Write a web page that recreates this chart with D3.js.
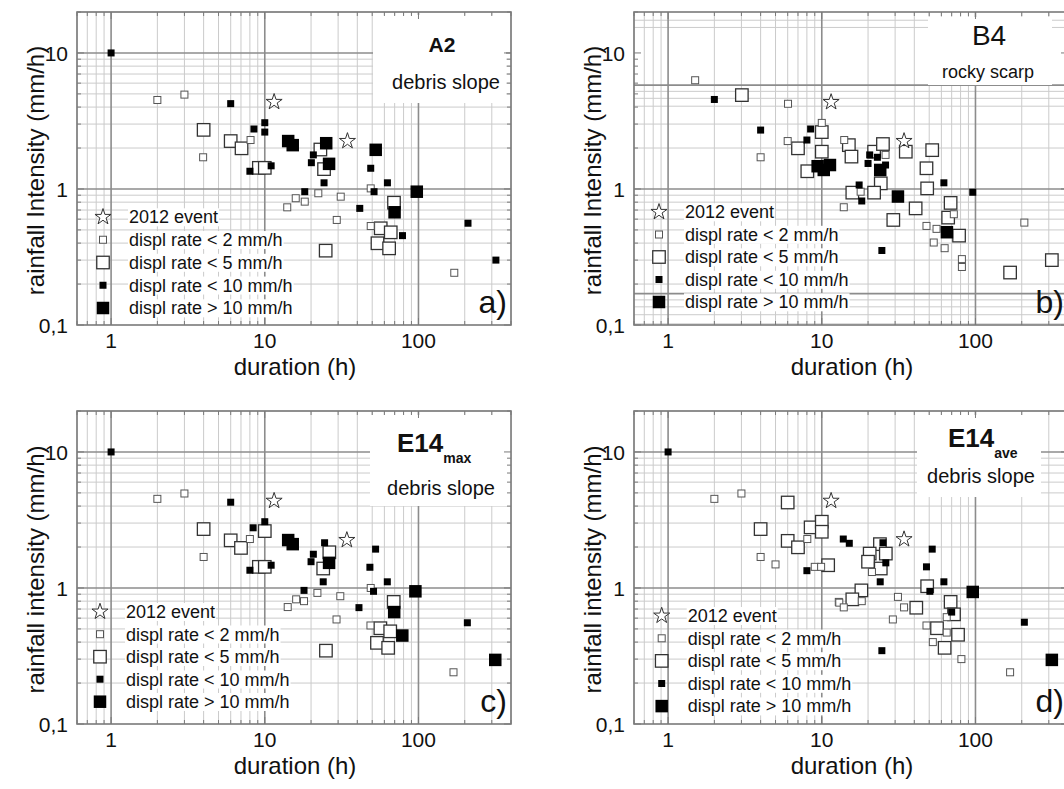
<!DOCTYPE html>
<html>
<head>
<meta charset="utf-8">
<script src="https://cdn.jsdelivr.net/npm/d3@7"></script>
<style>
  body { margin: 0; background: #fff; }
  svg { display: block; font-family: "Liberation Sans", Arial, sans-serif; }
</style>
</head>
<body>
<svg id="chart" width="1064" height="789"></svg>
<script>
// ---- data: [duration (h), rainfall intensity (mm/h)] ----
const a2Event = [[11.5, 4.36], [34.5, 2.25]];
const a2Lt2 = [[2, 4.51], [3, 4.94], [8.08, 2.29], [3.97, 1.71], [15.9, 0.855], [18.2, 0.807], [14, 0.733],
  [22.3, 0.93], [31.2, 0.878], [48.9, 1.01], [29.4, 0.592], [48.9, 0.534], [171, 0.242]];
const a2Lt5 = [[4, 2.72], [6, 2.25], [7.06, 1.99], [9.15, 1.43], [10, 1.43], [23, 1.95], [24.3, 1.40], [69.3, 0.793],
  [56.8, 0.514], [66, 0.48], [54.1, 0.399], [64.4, 0.366], [24.9, 0.352]];
const a2Lt10 = [[1, 10], [6, 4.24], [10, 3.07], [8.5, 2.76], [10, 2.62], [8, 1.35], [11, 1.48], [20.7, 1.78],
  [20.1, 1.56], [24.3, 1.11], [48.9, 1.42], [62.8, 1.11], [51.4, 0.955], [18.2, 0.955], [41.5, 0.72],
  [78.7, 0.454], [210, 0.56], [319, 0.3]];
const a2Gt10 = [[14.2, 2.25], [15.2, 2.1], [25.1, 2.17], [26.2, 1.53], [52.7, 1.94], [97.5, 0.955], [69.9, 0.674]];

const b4Event = [[11.5, 4.35], [34.3, 2.25]];
const b4Lt2 = [[1.5, 6.3], [6.03, 4.23], [10, 3.06], [6, 2.25], [4, 1.71], [14, 2.29], [26, 1.78], [17.9, 0.955],
  [13.9, 0.734], [72.3, 0.652], [48, 0.535], [55.8, 0.509], [53.5, 0.404], [63, 0.367], [81.6, 0.305],
  [81.6, 0.267], [208, 0.566]];
const b4Lt5 = [[3.02, 4.9], [10, 2.62], [7, 1.99], [10, 1.88], [8.05, 1.35], [15, 2.1], [15.6, 1.73], [21.9, 1.88],
  [25, 2.14], [24.2, 1.1], [35.2, 1.88], [52.3, 1.93], [48, 1.42], [48.5, 1.01], [15.8, 0.94], [21.9, 0.94],
  [40.8, 0.72], [68.9, 0.79], [66.4, 0.616], [29.2, 0.592], [78.2, 0.454], [168, 0.243], [314, 0.30]];
const b4Lt10 = [[2, 4.55], [4, 2.71], [8.46, 2.76], [8, 2.29], [9.2, 1.47], [20.5, 1.78], [23, 1.71], [20, 1.54],
  [26, 1.5], [17.5, 1.07], [62.3, 1.11], [96, 0.946], [18.2, 0.816], [24.6, 0.353]];
const b4Gt10 = [[9.4, 1.47], [10.3, 1.38], [11.3, 1.5], [24, 1.38], [31.3, 0.88], [65.2, 0.481]];

const e14maxEvent = [[11.5, 4.37], [34.2, 2.25]];
const e14maxLt2 = [[2, 4.52], [3, 4.95], [8, 2.29], [4, 1.69], [14.1, 0.724], [16, 0.825], [48.9, 1.0], [22, 0.92],
  [31, 0.87], [18, 0.8], [29.3, 0.587], [48.7, 0.53], [169, 0.24]];
const e14maxLt5 = [[4, 2.71], [10, 2.62], [6, 2.24], [7, 1.97], [9.15, 1.43], [10, 1.43], [26.3, 1.83], [24, 1.39],
  [69, 0.79], [56.5, 0.506], [65.5, 0.48], [53.7, 0.395], [63.5, 0.363], [25, 0.346]];
const e14maxLt10 = [[1, 10], [6, 4.27], [10, 3.07], [8.4, 2.77], [8, 1.35], [11, 1.47], [20.7, 1.77], [20, 1.56],
  [24.5, 2.15], [24, 1.11], [52.6, 1.93], [48.3, 1.42], [62.7, 1.11], [51, 0.945], [18, 0.96], [41, 0.717], [208, 0.555]];
const e14maxGt10 = [[14.2, 2.25], [15.2, 2.1], [26.2, 1.53], [95.5, 0.945], [69.5, 0.665], [78.5, 0.447], [316, 0.296]];

const e14aveEvent = [[11.5, 4.37], [34.3, 2.28]];
const e14aveLt2 = [[2, 4.52], [3, 4.95], [8.05, 2.29], [4, 1.69], [5, 1.49], [9, 1.43], [9.9, 1.43], [12.9, 0.79],
  [21.2, 1.31], [18.2, 0.8], [13, 0.78], [13.9, 0.72], [31.3, 0.86], [34.3, 0.72], [29, 0.587], [65, 0.61],
  [48, 0.53], [65, 0.47], [52.8, 0.40], [81, 0.30], [168, 0.24]];
const e14aveLt5 = [[6, 4.25], [4, 2.71], [6, 2.22], [7, 1.99], [8.46, 2.79], [10, 3.07], [10, 2.59], [11, 1.47],
  [23.9, 2.1], [26.1, 1.79], [20.5, 1.79], [20, 1.56], [24.2, 1.39], [48.5, 1.03], [18.1, 0.96], [15.8, 0.825],
  [41.2, 0.716], [68.9, 0.79], [72.5, 0.64], [56.2, 0.506], [77, 0.453], [63, 0.363]];
const e14aveLt10 = [[1, 10], [8, 1.34], [13.8, 2.29], [15.1, 2.13], [25, 2.15], [26.1, 1.53], [24, 1.11], [52.3, 1.93],
  [48, 1.43], [62.3, 1.11], [50.5, 0.945], [70, 0.665], [24.6, 0.346], [208, 0.56]];
const e14aveGt10 = [[96, 0.935], [314, 0.296]];

const legendLabels = ['2012 event', 'displ rate < 2 mm/h', 'displ rate < 5 mm/h', 'displ rate < 10 mm/h', 'displ rate > 10 mm/h'];
const xTicks = [1, 10, 100];
const xTickLabels = ['1', '10', '100'];
const yTicks = [0.1, 1, 10];
const yTickLabels = ['0,1', '1', '10'];
const xDomain = [0.6, 400];
const yDomain = [0.1, 20];

// marker styles for the five classes
const styles = [
  { type: 'star', size: 80 },
  { type: 'rect', s: 7, fill: '#fff', stroke: '#555', sw: 1 },
  { type: 'rect', s: 12.5, fill: '#fff', stroke: '#333', sw: 1.3 },
  { type: 'rect', s: 7, fill: '#000', stroke: 'none', sw: 0 },
  { type: 'rect', s: 12.5, fill: '#000', stroke: 'none', sw: 0 }
];

const panels = [
  { left: 77, top: 12, ylab: 'rainfall Intensity (mm/h)', tag: 'a)',
    series: [a2Event, a2Lt2, a2Lt5, a2Lt10, a2Gt10],
    legend: { x: 103, y: 217, dy: 22.75 },
    box: { x0: 373, x1: 506, y0: 15, y1: 103 },
    title: { text: 'A2', bold: true, size: 21, x: 442, y: 52 },
    sub: { text: 'debris slope', size: 20, x: 446, y: 89 } },
  { left: 634, top: 12, ylab: 'rainfall Intensity (mm/h)', tag: 'b)',
    series: [b4Event, b4Lt2, b4Lt5, b4Lt10, b4Gt10],
    legend: { x: 659, y: 212, dy: 22.5 },
    box: { x0: 928, x1: 1052, y0: 17, y1: 85 },
    title: { text: 'B4', bold: false, size: 28, x: 989, y: 45 },
    sub: { text: 'rocky scarp', size: 18, x: 988, y: 78 },
    hMajor: [5.8, 1, 0.17],
    hMinor: [17.4, 15.4, 5.22, 4.64, 4.06, 3, 2, 0.9, 0.8, 0.7, 0.6, 0.5, 0.4, 0.3, 0.2, 0.153, 0.136, 0.119, 0.102] },
  { left: 77, top: 411, ylab: 'rainfall intensity (mm/h)', tag: 'c)',
    series: [e14maxEvent, e14maxLt2, e14maxLt5, e14maxLt10, e14maxGt10],
    legend: { x: 100, y: 611.7, dy: 22.5 },
    box: { x0: 370, x1: 511, y0: 415, y1: 506 },
    title: { text: 'E14', subscript: 'max', bold: true, size: 26, x: 397, y: 452 },
    sub: { text: 'debris slope', size: 20, x: 441, y: 495 } },
  { left: 634, top: 411, ylab: 'rainfall intensity (mm/h)', tag: 'd)',
    series: [e14aveEvent, e14aveLt2, e14aveLt5, e14aveLt10, e14aveGt10],
    legend: { x: 661.7, y: 615.7, dy: 22.6 },
    box: { x0: 917, x1: 1041, y0: 415, y1: 497 },
    title: { text: 'E14', subscript: 'ave', bold: true, size: 26, x: 948, y: 447 },
    sub: { text: 'debris slope', size: 20, x: 981, y: 483 } }
];

const svg = d3.select('#chart');
const plotW = 434, plotH = 313;

function minorValues(lo, hi) {
  const out = [];
  [0.1, 1, 10, 100].forEach(dec => {
    for (let k = 2; k <= 9; k++) {
      const v = +(k * dec).toPrecision(3);
      if (v >= lo && v <= hi) out.push(v);
    }
  });
  return out;
}

function drawMarker(g, style, px, py) {
  if (style.type === 'star') {
    g.append('path')
      .attr('d', d3.symbol(d3.symbolStar, style.size)())
      .attr('transform', `translate(${px},${py})`)
      .attr('fill', '#fff')
      .attr('stroke', '#333')
      .attr('stroke-width', 1);
  } else {
    g.append('rect')
      .attr('x', px - style.s / 2)
      .attr('y', py - style.s / 2)
      .attr('width', style.s)
      .attr('height', style.s)
      .attr('fill', style.fill)
      .attr('stroke', style.stroke)
      .attr('stroke-width', style.sw);
  }
}

function drawPanel(p) {
  const x = d3.scaleLog().domain(xDomain).range([p.left, p.left + plotW]);
  const y = d3.scaleLog().domain(yDomain).range([p.top + plotH, p.top]);
  const g = svg.append('g');
  const x0 = p.left, x1 = p.left + plotW, y0 = p.top, y1 = p.top + plotH;

  // grid
  const vMinor = minorValues(xDomain[0], xDomain[1]);
  const hMinor = p.hMinor || minorValues(yDomain[0], yDomain[1]);
  const hMajor = p.hMajor || [1, 10];

  g.selectAll('.vmin').data(vMinor).join('line')
    .attr('x1', d => x(d)).attr('x2', d => x(d)).attr('y1', y0).attr('y2', y1)
    .attr('stroke', '#cbcbcb').attr('stroke-width', 1);
  g.selectAll('.hmin').data(hMinor).join('line')
    .attr('y1', d => y(d)).attr('y2', d => y(d)).attr('x1', x0).attr('x2', x1)
    .attr('stroke', '#cbcbcb').attr('stroke-width', 1);
  g.selectAll('.vmaj').data(xTicks).join('line')
    .attr('x1', d => x(d)).attr('x2', d => x(d)).attr('y1', y0).attr('y2', y1)
    .attr('stroke', '#8c8c8c').attr('stroke-width', 1.6);
  g.selectAll('.hmaj').data(hMajor).join('line')
    .attr('y1', d => y(d)).attr('y2', d => y(d)).attr('x1', x0).attr('x2', x1)
    .attr('stroke', '#8c8c8c').attr('stroke-width', 1.6);

  // annotation box
  g.append('rect')
    .attr('x', p.box.x0).attr('y', p.box.y0)
    .attr('width', p.box.x1 - p.box.x0).attr('height', p.box.y1 - p.box.y0)
    .attr('fill', '#fff');

  const t = g.append('text')
    .attr('x', p.title.x).attr('y', p.title.y)
    .attr('font-size', p.title.size)
    .attr('font-weight', p.title.bold ? 'bold' : 'normal')
    .attr('text-anchor', p.title.subscript ? 'start' : 'middle')
    .attr('fill', '#111');
  t.append('tspan').text(p.title.text);
  if (p.title.subscript) {
    t.append('tspan').attr('font-size', 14).attr('dy', 11).text(p.title.subscript);
  }
  g.append('text')
    .attr('x', p.sub.x).attr('y', p.sub.y)
    .attr('font-size', p.sub.size)
    .attr('text-anchor', 'middle')
    .attr('fill', '#111')
    .text(p.sub.text);

  // inward ticks on all sides
  const tickCol = '#7a7a7a';
  const xt = vMinor.map(v => [v, 4]).concat(xTicks.map(v => [v, 7]));
  const yt = minorValues(yDomain[0], yDomain[1]).map(v => [v, 4]).concat(yTicks.map(v => [v, 7]));
  xt.forEach(([v, l]) => {
    g.append('line').attr('x1', x(v)).attr('x2', x(v)).attr('y1', y1).attr('y2', y1 - l).attr('stroke', tickCol);
    g.append('line').attr('x1', x(v)).attr('x2', x(v)).attr('y1', y0).attr('y2', y0 + l).attr('stroke', tickCol);
  });
  yt.forEach(([v, l]) => {
    g.append('line').attr('y1', y(v)).attr('y2', y(v)).attr('x1', x0).attr('x2', x0 + l).attr('stroke', tickCol);
    g.append('line').attr('y1', y(v)).attr('y2', y(v)).attr('x1', x1).attr('x2', x1 - l).attr('stroke', tickCol);
  });

  // frame
  g.append('rect')
    .attr('x', x0).attr('y', y0).attr('width', plotW).attr('height', plotH)
    .attr('fill', 'none').attr('stroke', '#7a7a7a').attr('stroke-width', 1.6);

  // legend
  legendLabels.forEach((lab, i) => {
    const ly = p.legend.y + i * p.legend.dy;
    const txt = g.append('text')
      .attr('x', p.legend.x + 26).attr('y', ly)
      .attr('dy', '0.35em')
      .attr('font-size', 18)
      .attr('fill', '#111')
      .text(lab);
    const bb = txt.node().getBBox();
    g.insert('rect', function () { return txt.node(); })
      .attr('x', bb.x - 1).attr('y', bb.y + 1)
      .attr('width', bb.width + 2).attr('height', bb.height - 2)
      .attr('fill', '#fff');
    drawMarker(g, styles[i], p.legend.x, ly);
  });

  // data points: large open, small open, small filled, large filled, stars
  [2, 1, 3, 4, 0].forEach(k => {
    p.series[k].forEach(d => drawMarker(g, styles[k], x(d[0]), y(d[1])));
  });

  // panel tag
  g.append('text')
    .attr('x', x1 - 4).attr('y', y1 - 12)
    .attr('text-anchor', 'end')
    .attr('font-size', 32)
    .attr('fill', '#111')
    .text(p.tag);

  // tick labels
  g.selectAll('.xtl').data(xTicks).join('text')
    .attr('x', d => x(d)).attr('y', y1 + 23)
    .attr('text-anchor', 'middle')
    .attr('font-size', 21)
    .attr('fill', '#111')
    .text((d, i) => xTickLabels[i]);
  g.selectAll('.ytl').data(yTicks).join('text')
    .attr('x', x0 - 9).attr('y', d => y(d))
    .attr('dy', '0.36em')
    .attr('text-anchor', 'end')
    .attr('font-size', 21)
    .attr('fill', '#111')
    .text((d, i) => yTickLabels[i]);

  // axis titles
  g.append('text')
    .attr('x', (x0 + x1) / 2 + 1).attr('y', y1 + 50)
    .attr('text-anchor', 'middle')
    .attr('font-size', 24)
    .attr('fill', '#111')
    .text('duration (h)');
  g.append('text')
    .attr('transform', `translate(${x0 - 33},${(y0 + y1) / 2 + 2}) rotate(-90)`)
    .attr('text-anchor', 'middle')
    .attr('font-size', 24)
    .attr('fill', '#111')
    .text(p.ylab);
}

panels.forEach(drawPanel);
</script>
</body>
</html>
